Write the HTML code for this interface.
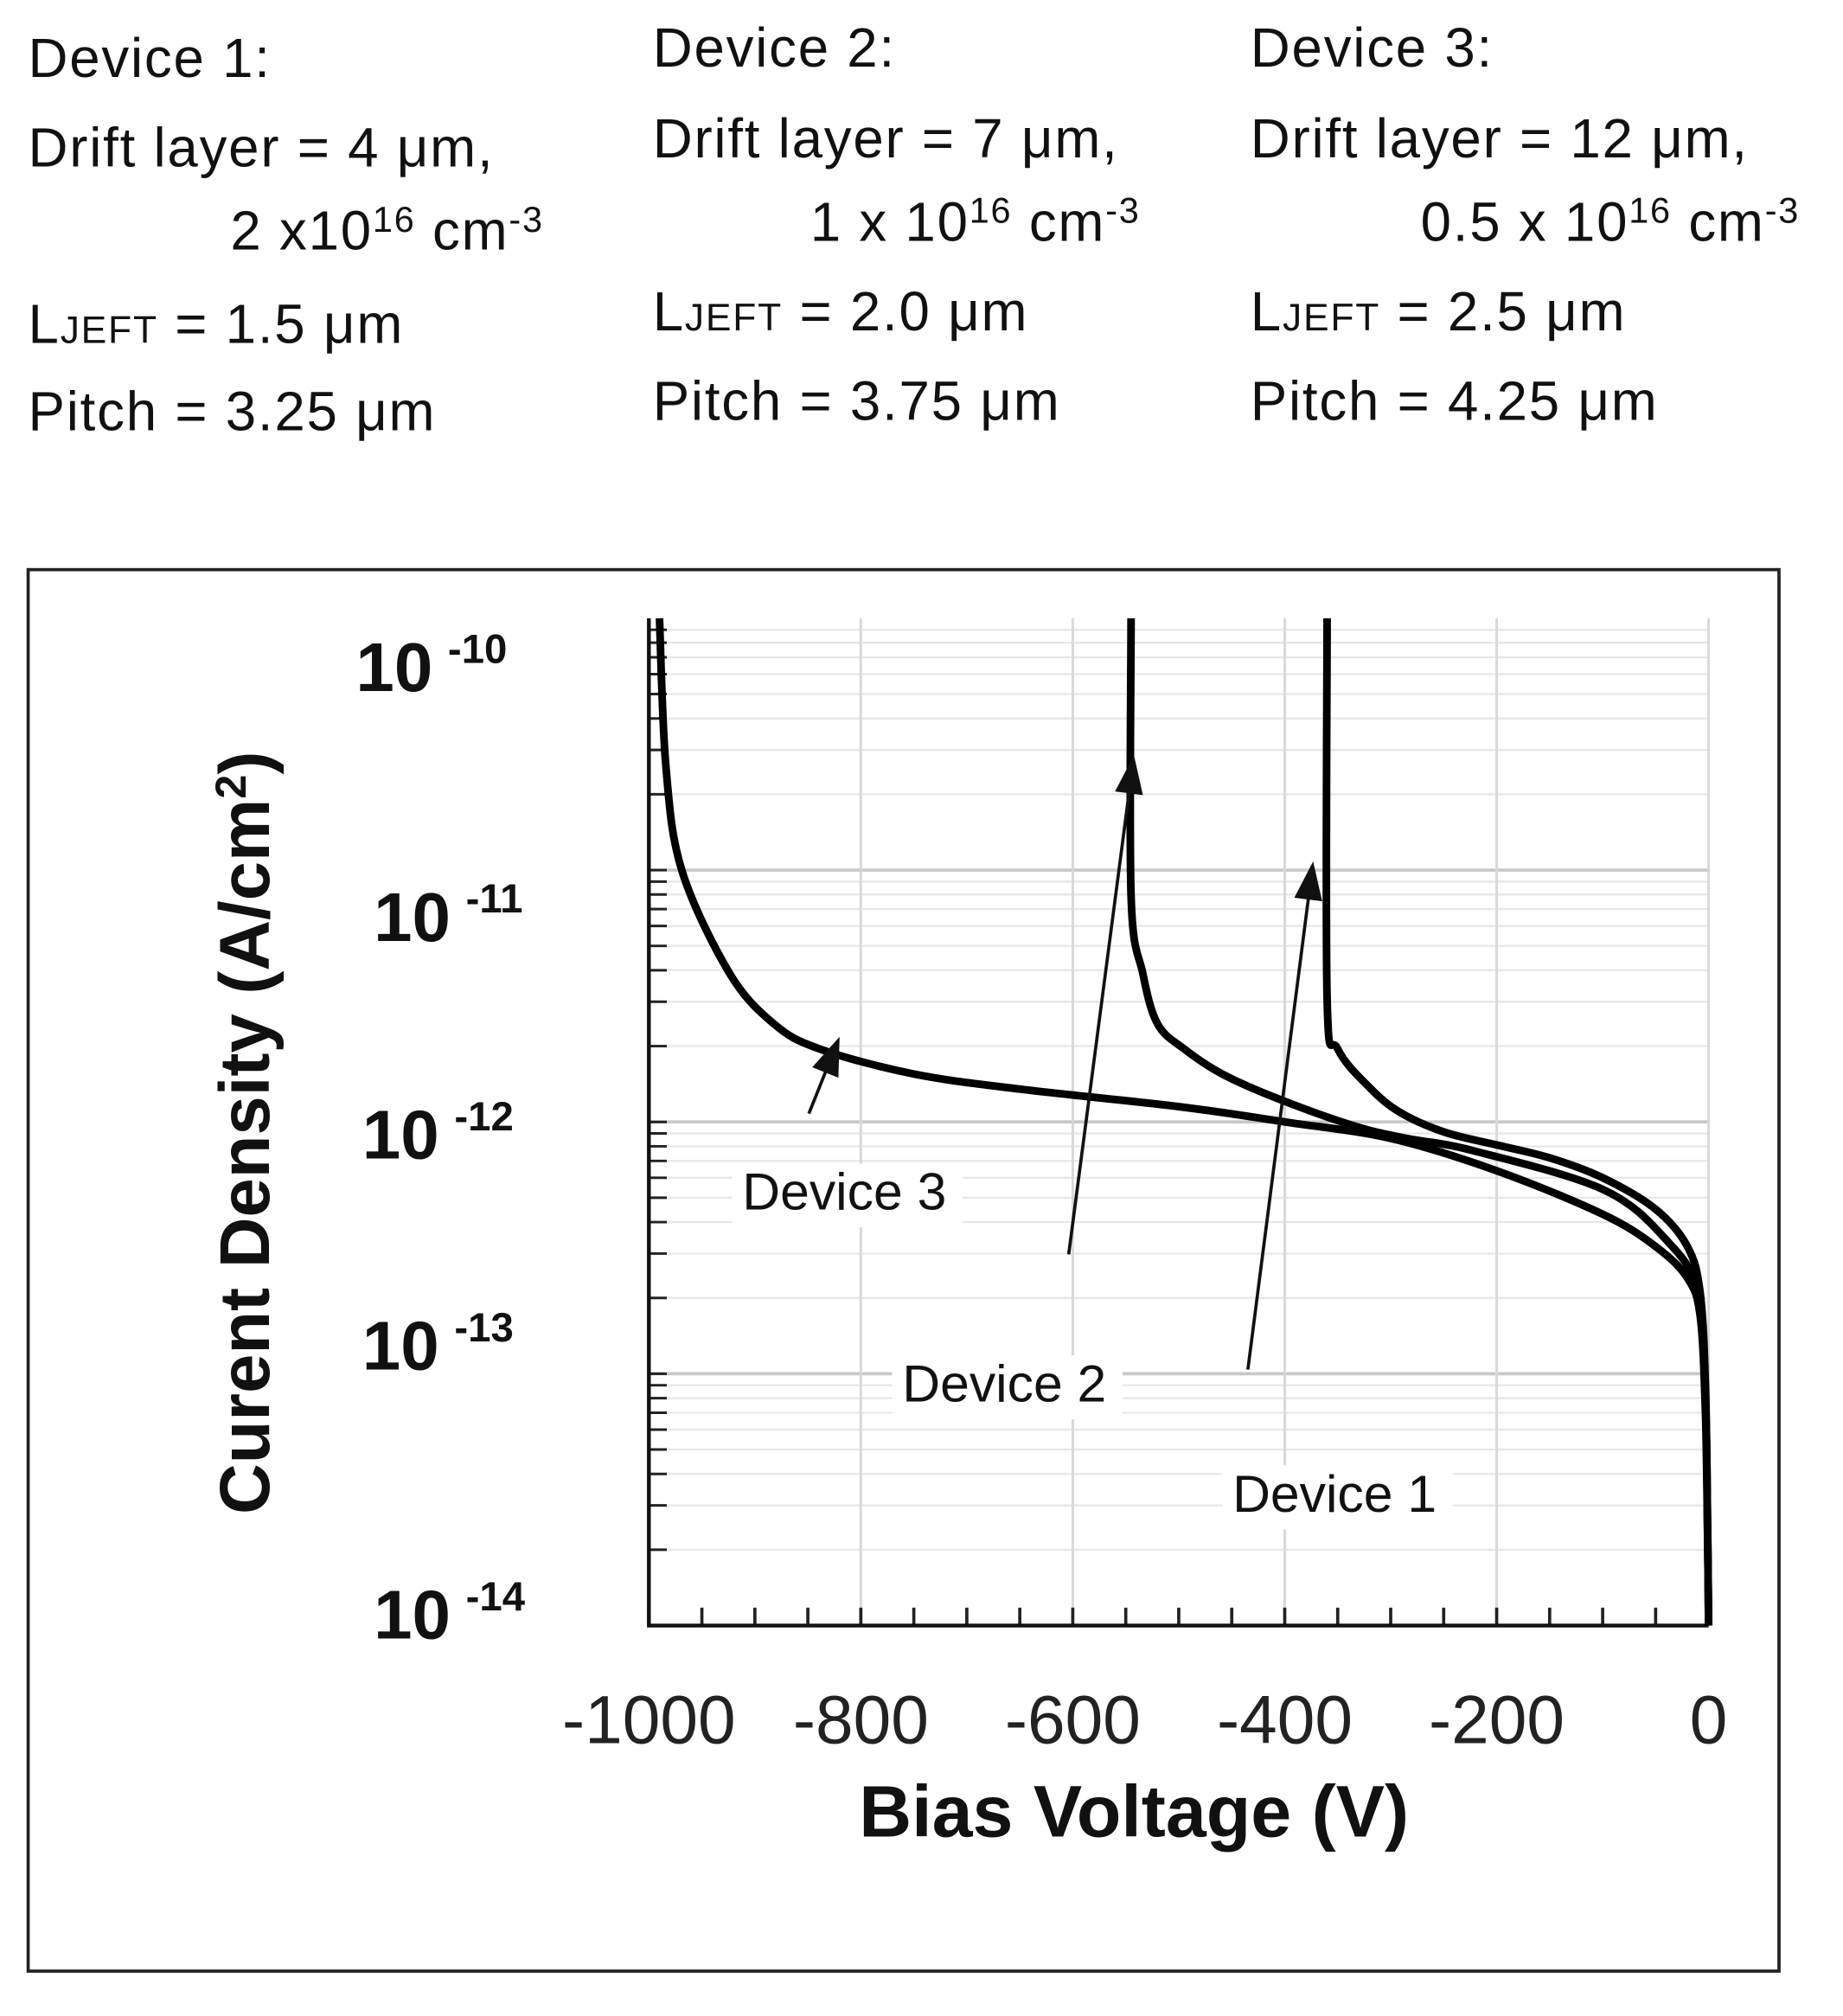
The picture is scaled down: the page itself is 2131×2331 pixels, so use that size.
<!DOCTYPE html>
<html><head><meta charset="utf-8"><style>
html,body{margin:0;padding:0;background:#fff;}
svg{display:block;}
.hd{font-family:"Liberation Sans",sans-serif;font-size:43px;letter-spacing:1.2px;fill:#111;}
</style></head><body>
<svg id="fig" width="2131" height="2331" viewBox="0 0 1440 1575" xmlns="http://www.w3.org/2000/svg">
<g>
<text class="hd" x="22" y="60">Device 1:</text>
<text class="hd" x="22" y="130">Drift layer = 4 μm,</text>
<text class="hd" x="180" y="195">2 x10<tspan dy="-14" font-size="28">16</tspan><tspan dy="14"> cm</tspan><tspan dy="-14" font-size="28">-3</tspan></text>
<text class="hd" x="22" y="268">L<tspan font-size="30">JEFT</tspan>  = 1.5 μm</text>
<text class="hd" x="22" y="336">Pitch = 3.25 μm</text>
<text class="hd" x="510" y="52">Device 2:</text>
<text class="hd" x="510" y="123">Drift layer = 7 μm,</text>
<text class="hd" x="633" y="188">1 x 10<tspan dy="-14" font-size="28">16</tspan><tspan dy="14"> cm</tspan><tspan dy="-14" font-size="28">-3</tspan></text>
<text class="hd" x="510" y="258">L<tspan font-size="30">JEFT</tspan>  = 2.0 μm</text>
<text class="hd" x="510" y="328">Pitch = 3.75 μm</text>
<text class="hd" x="977" y="52">Device 3:</text>
<text class="hd" x="977" y="123">Drift layer = 12 μm,</text>
<text class="hd" x="1110" y="188">0.5 x 10<tspan dy="-14" font-size="28">16</tspan><tspan dy="14"> cm</tspan><tspan dy="-14" font-size="28">-3</tspan></text>
<text class="hd" x="977" y="258">L<tspan font-size="30">JEFT</tspan>  = 2.5 μm</text>
<text class="hd" x="977" y="328">Pitch = 4.25 μm</text>
</g>
<rect x="22" y="445" width="1368" height="1095" fill="none" stroke="#222" stroke-width="2.5"/>
<g id="grid"></g>
<g id="axes"></g>
<g id="curves"></g>
<g id="annot"></g>
<text x="210" y="885" transform="rotate(-90 210 885)" text-anchor="middle" font-family="Liberation Sans,sans-serif" font-weight="bold" font-size="55" fill="#111">Curent  Density (A/cm<tspan dy="-18" font-size="34">2</tspan><tspan dy="18">)</tspan></text>
<text x="886" y="1435" text-anchor="middle" font-family="Liberation Sans,sans-serif" font-weight="bold" font-size="57" fill="#111">Bias Voltage (V)</text>
</svg>
<script>
const xTicks=[-1000,-800,-600,-400,-200,0];
const yDecades=[-10,-11,-12,-13,-14];
const dev3V=[-990,-984,-969,-924,-882,-839,-750,-650,-500,-400,-300,-200,-100,-50,-20,-8,-3,-1,0];
const dev3J=[1e-10,2.6e-11,1e-11,3.9e-12,2.45e-12,1.95e-12,1.55e-12,1.35e-12,1.15e-12,1e-12,8.6e-13,6.4e-13,4.3e-13,3.2e-13,2.4e-13,1.7e-13,7e-14,2.3e-14,1e-14];
const dev2V=[-545,-545,-534,-520,-495,-459,-405,-333,-285,-223,-100,-40,-10,-3,-1,0];
const dev2J=[1e-10,7.9e-12,3.9e-12,2.45e-12,1.95e-12,1.55e-12,1.23e-12,9.6e-13,8.6e-13,7.7e-13,5.4e-13,3.4e-13,2.1e-13,8e-14,2.5e-14,1e-14];
const dev1V=[-360,-360,-350,-320,-291,-249,-200,-150,-100,-50,-20,-8,-3,-1,0];
const dev1J=[1e-10,3.1e-12,1.95e-12,1.37e-12,1.09e-12,9.1e-13,8.1e-13,7.2e-13,6e-13,4.5e-13,3.2e-13,2.1e-13,9e-14,2.5e-14,1e-14];
const L=507,R=1335,T=483,B=1270;
const xs=v=>L+(v+1000)/1000*(R-L);
const ys=j=>T+(-10-Math.log10(j))/4*(B-T);
const NS="http://www.w3.org/2000/svg";
function mk(p,t,a){const e=document.createElementNS(NS,t);for(const k in a)e.setAttribute(k,a[k]);p.appendChild(e);return e;}
const grid=document.getElementById('grid'),axes=document.getElementById('axes'),curves=document.getElementById('curves'),an=document.getElementById('annot');
for(let d=-14;d<-10;d++){for(let m=1;m<10;m++){const y=ys(m*Math.pow(10,d));
const g=mk(grid,'line',{x1:L,x2:R,y1:y,y2:y,stroke:m==1?'#c8c8c8':'#e6e6e6','stroke-width':m==1?2.5:1.5});


const t=mk(axes,'line',{x1:L,x2:L+14,y1:y,y2:y,stroke:'#222','stroke-width':2});

}}
xTicks.forEach(v=>{const x=xs(v);
const g=mk(grid,'line',{x1:x,x2:x,y1:T,y2:B,stroke:'#d8d8d8','stroke-width':2});


const t=mk(axes,'text',{x:x,y:1362,'text-anchor':'middle','font-family':'Liberation Sans,sans-serif','font-size':53,fill:'#222'});
t.textContent=v;

});
for(let v=-1000;v<=0;v+=50){const x=xs(v);
const t=mk(axes,'line',{x1:x,x2:x,y1:B,y2:B-14,stroke:'#222','stroke-width':2.5});

}
const labBase={'-10':[278,540],'-11':[292,735],'-12':[283,905],'-13':[283,1070],'-14':[292,1280]};
yDecades.forEach(d=>{const [lx,ly]=labBase[d];
const t=mk(axes,'text',{x:lx,y:ly,'font-family':'Liberation Sans,sans-serif','font-weight':'bold','font-size':54,fill:'#111'});
t.textContent='10';


const s=mk(axes,'text',{x:lx+72,y:ly-22,'font-family':'Liberation Sans,sans-serif','font-weight':'bold','font-size':32,fill:'#111'});
s.textContent=d;

});
const ax=mk(axes,'polyline',{points:`${L},${T} ${L},${B} ${R},${B}`,fill:'none',stroke:'#111','stroke-width':3});


function smooth(P){let d=`M${P[0][0]},${P[0][1]}`;
for(let i=0;i<P.length-1;i++){const p0=P[Math.max(i-1,0)],p1=P[i],p2=P[i+1],p3=P[Math.min(i+2,P.length-1)];
const c1=[p1[0]+(p2[0]-p0[0])/6,p1[1]+(p2[1]-p0[1])/6],c2=[p2[0]-(p3[0]-p1[0])/6,p2[1]-(p3[1]-p1[1])/6];
d+=` C${c1[0]},${c1[1]} ${c2[0]},${c2[1]} ${p2[0]},${p2[1]}`;}return d;}
[[dev1V,dev1J,'device-1-curve'],[dev2V,dev2J,'device-2-curve'],[dev3V,dev3J,'device-3-curve']].forEach(([V,J,n])=>{
const p=mk(curves,'path',{d:smooth(V.map((v,i)=>[xs(v),ys(J[i])])),fill:'none',stroke:'#000','stroke-width':6,'stroke-linejoin':'round'});

});
function arrow(x1,y1,x2,y2,n){const a=Math.atan2(y2-y1,x2-x1),h=30,w=11;
const l=mk(an,'line',{x1:x1,y1:y1,x2:x2-Math.cos(a)*h*0.8,y2:y2-Math.sin(a)*h*0.8,stroke:'#111','stroke-width':2.5});


const bx=x2-Math.cos(a)*h,by=y2-Math.sin(a)*h;
const pg=mk(an,'polygon',{points:`${x2},${y2} ${bx-Math.sin(a)*w},${by+Math.cos(a)*w} ${bx+Math.sin(a)*w},${by-Math.cos(a)*w}`,fill:'#111'});

}
arrow(632,870,656,810,'device-3-arrow');
arrow(835,980,886,590,'device-2-arrow');
arrow(975,1070,1026,673,'device-1-arrow');
[['Device 3',580,945,'device-3-label'],['Device 2',705,1095,'device-2-label'],['Device 1',963,1181,'device-1-label']].forEach(([s,x,y,n])=>{
const bg=mk(an,'rect',{x:x-8,y:y-36,width:180,height:50,fill:'#fff'});


const t=mk(an,'text',{x:x,y:y,'font-family':'Liberation Sans,sans-serif','font-size':41,fill:'#111'});
t.textContent=s;

});
</script>
</body></html>
